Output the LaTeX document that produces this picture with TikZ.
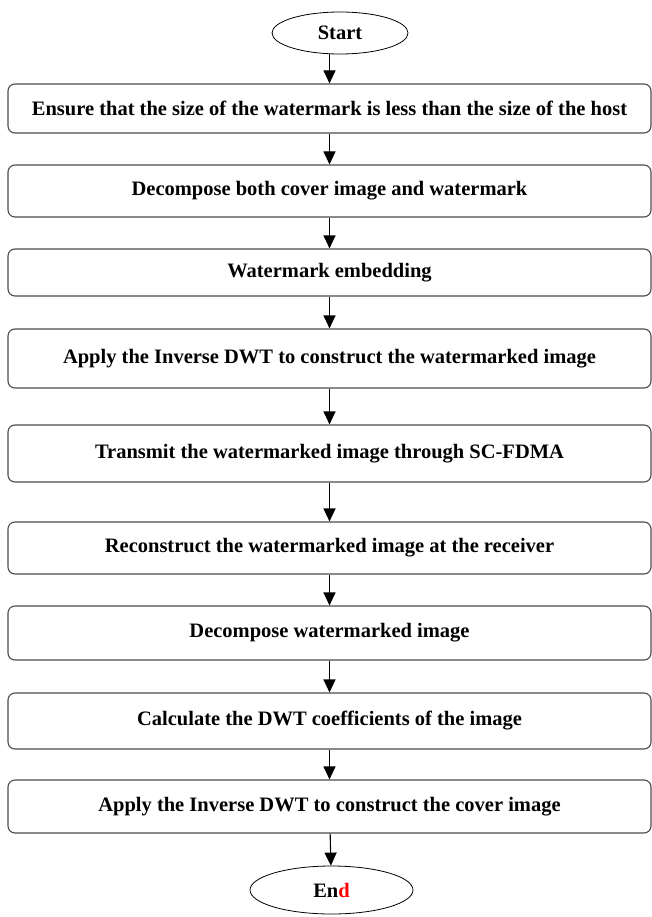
\documentclass[tikz,border=0pt]{standalone}
\usepackage{fontspec}
\setmainfont{Liberation Serif}
\usetikzlibrary{shapes.geometric,arrows.meta,positioning}

\tikzset{
  stepbox/.style={draw=black!70,line width=1.1pt,rounded corners=7pt,
    minimum width=643pt,minimum height=54pt,inner sep=0pt,
    font=\fontsize{20.5}{24}\selectfont\bfseries},
  terminal/.style={ellipse,draw,line width=0.8pt,inner sep=0pt,
    font=\fontsize{20.5}{24}\selectfont\bfseries}
}

\begin{document}
\begin{tikzpicture}[>={Triangle[length=13pt,width=12pt]},line width=1.1pt,node distance=85pt,on grid]
      \useasboundingbox (0,0) rectangle (652pt,-917pt);
      \node[terminal,minimum width=136pt,minimum height=42pt] (start) at (340pt,-33pt) {Start};
      \node[stepbox,minimum height=49pt] (ensure)  [below left=75.5pt and 10.5pt of start] {Ensure that the size of the watermark is less than the size of the host};
      \node[stepbox,minimum height=52pt] (decomp)  [below=82.5pt of ensure]  {Decompose both cover image and watermark};
      \node[stepbox,minimum height=47pt] (embed)   [below=81.5pt of decomp]  {Watermark embedding};
      \node[stepbox,minimum height=59pt] (idwt)    [below=86pt of embed]     {Apply the Inverse DWT to construct the watermarked image};
      \node[stepbox,minimum height=57pt] (tx)      [below=95pt of idwt]      {Transmit the watermarked image through SC-FDMA};
      \node[stepbox,minimum height=52pt] (rx)      [below=94.5pt of tx]      {Reconstruct the watermarked image at the receiver};
      \node[stepbox]                     (decompw) [below=85pt of rx]        {Decompose watermarked image};
      \node[stepbox,minimum height=56pt] (coef)    [below=88pt of decompw]   {Calculate the DWT coefficients of the image};
      \node[stepbox,minimum height=53pt] (cover)   [below=85.5pt of coef]    {Apply the Inverse DWT to construct the cover image};
      \node[terminal,minimum width=163pt,minimum height=48pt] (end) [below right=83.5pt and 2pt of cover] {En\textcolor{red}{d}};

      \path[->] (start.south -| ensure.north) edge (ensure)
                (ensure)  edge (decomp)
                (decomp)  edge (embed)
                (embed)   edge (idwt)
                (idwt)    edge (tx)
                (tx)      edge (rx)
                (rx)      edge (decompw)
                (decompw) edge (coef)
                (coef)    edge (cover)
                (cover)   edge (end);
    \end{tikzpicture}
\end{document}
